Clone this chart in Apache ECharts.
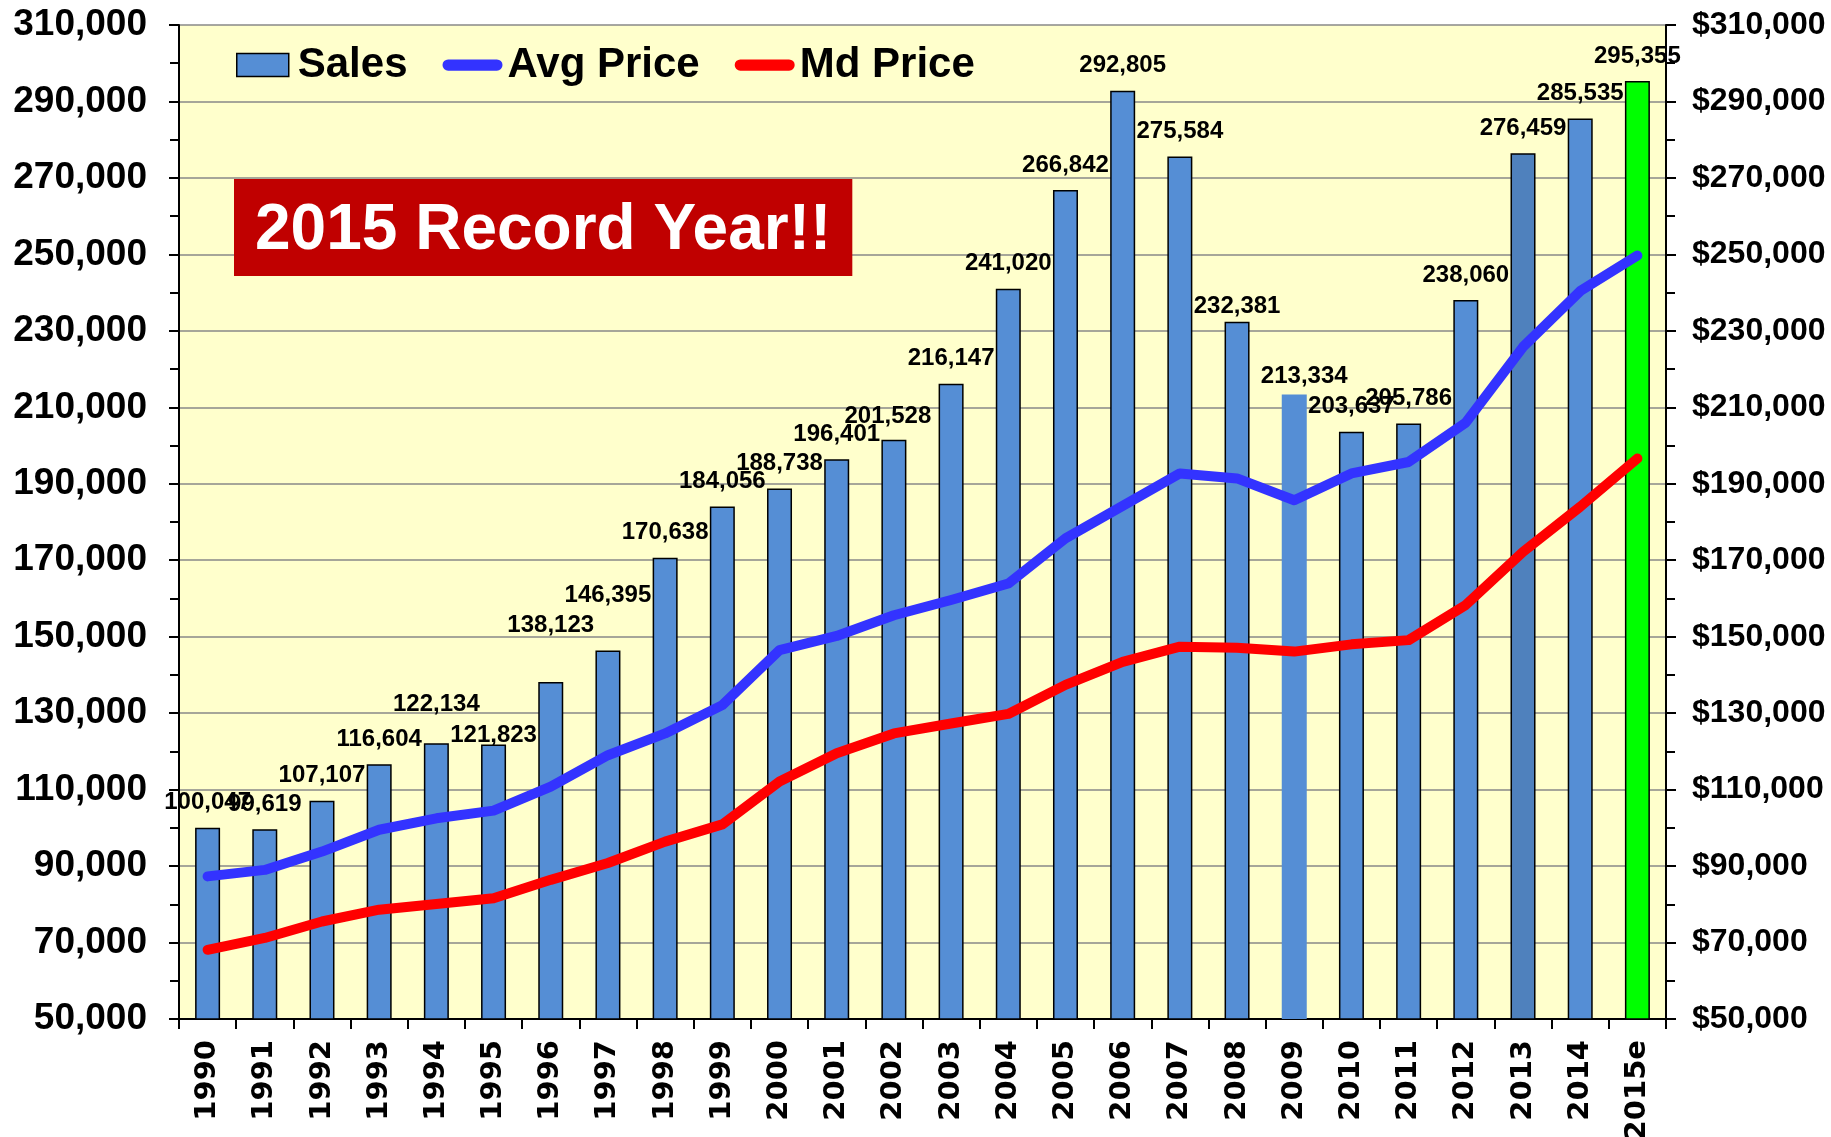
<!DOCTYPE html>
<html>
<head>
<meta charset="utf-8">
<title>Sales, Avg Price, Md Price 1990-2015</title>
<script src="https://cdn.jsdelivr.net/npm/echarts@6/dist/echarts.min.js"></script>
<style>
html, body { margin: 0; padding: 0; background: #fff; }
#report { width: 1831px; height: 1137px; }
</style>
</head>
<body>
<div id="report"></div>
<script>
var years = ['1990', '1991', '1992', '1993', '1994', '1995', '1996', '1997', '1998', '1999',
	'2000', '2001', '2002', '2003', '2004', '2005', '2006', '2007', '2008', '2009',
	'2010', '2011', '2012', '2013', '2014', '2015e'];
var sales = [100047, 99619, 107107, 116604, 122134, 121823, 138123, 146395, 170638, 184056,
	188738, 196401, 201528, 216147, 241020, 266842, 292805, 275584, 232381, 213334,
	203637, 205786, 238060, 276459, 285535, 295355];
var avgPrice = [87300, 89000, 93800, 99500, 102500, 104500, 110800, 119000, 124700, 132100,
	146500, 150200, 155600, 159600, 163900, 175700, 184200, 192700, 191400, 185700,
	192700, 195700, 206000, 225800, 240400, 249700];
var mdPrice = [68100, 71200, 75500, 78600, 80100, 81600, 86400, 90800, 96400, 100900,
	112100, 119500, 124700, 127300, 129800, 137400, 143400, 147400, 147100, 146100,
	148000, 149100, 158300, 172200, 184000, 196600];
var axisMin = 50000, axisMax = 310000, axisStep = 20000;

var font = 'Liberation Sans, Arial, sans-serif';
var fmt = function(v) { return Number(v).toLocaleString('en-US'); };

// labels that were nudged by hand in the original
var labelShift = { '1994': [0, -14], '1995': [0, 16], '1996': [0, -32], '1997': [0, -30],
	'2002': [-6, 2], '2008': [0, 10], '2009': [10, 7] };

var barData = sales.map(function(v, i) {
	var y = years[i];
	var item = { value: v };
	if (y === '2009') item.itemStyle = { borderWidth: 0 };
	if (y === '2013') item.itemStyle = { color: '#4F81BD' };
	if (y === '2015e') item.itemStyle = { color: '#00FF00' };
	if (labelShift[y]) item.label = { offset: labelShift[y] };
	return item;
});

var pill = 'path://M6,0 L58,0 A6,6 0 0 1 58,12 L6,12 A6,6 0 0 1 6,0 Z';
var box = 'path://M0,0 L52,0 L52,23 L0,23 Z';

var valueAxis = function(pos, prefix, margin, size, showSplit) {
	return {
		type: 'value', position: pos, min: axisMin, max: axisMax, interval: axisStep,
		axisLine: { show: true, lineStyle: { color: '#000', width: 2 } },
		axisTick: { show: true, length: 10, lineStyle: { color: '#000', width: 2 } },
		minorTick: { show: true, splitNumber: 2, length: 9, lineStyle: { color: '#000', width: 2 } },
		splitLine: { show: showSplit, lineStyle: { color: '#888', width: 1.5 } },
		axisLabel: {
			margin: margin, color: '#000', fontFamily: font, fontWeight: 'bold', fontSize: size,
			formatter: function(v) { return prefix + fmt(v); }
		}
	};
};

var myChart = echarts.init(document.getElementById('report'));
var option = {
	animation: false,
	backgroundColor: '#fff',
	title: {
		text: '2015 Record Year!!',
		left: 234, top: 179,
		backgroundColor: '#C00000',
		padding: [20, 21, 12, 21],
		textStyle: { color: '#fff', fontFamily: font, fontWeight: 'bold', fontSize: 64, lineHeight: 65 }
	},
	legend: {
		left: 236, top: 44, padding: 0,
		itemWidth: 60, itemHeight: 23, itemGap: 35,
		symbolKeepAspect: true,
		textStyle: { color: '#000', fontFamily: font, fontWeight: 'bold', fontSize: 42 },
		data: [
			{ name: 'Sales', icon: box, itemStyle: { color: '#558ED5', borderColor: '#000', borderWidth: 1.5 } },
			{ name: 'Avg Price', icon: pill, itemStyle: { color: '#3333FF' } },
			{ name: 'Md Price', icon: pill, itemStyle: { color: '#FF0000' } }
		]
	},
	grid: {
		left: 179, right: 165, top: 25, bottom: 118,
		show: true, backgroundColor: '#FFFFCC', borderWidth: 0,
		outerBoundsMode: 'none'
	},
	xAxis: {
		type: 'category', data: years,
		axisLine: { lineStyle: { color: '#000', width: 2 } },
		axisTick: { show: true, length: 10, lineStyle: { color: '#000', width: 2 } },
		axisLabel: {
			interval: 0, rotate: 90, margin: 21, color: '#000',
			fontFamily: 'DejaVu Sans, sans-serif', fontWeight: 'bold', fontSize: 29
		}
	},
	yAxis: [
		valueAxis('left', '', 32, 37, true),
		valueAxis('right', '$', 26, 32, false)
	],
	series: [
		{
			name: 'Sales', type: 'bar', barWidth: 25, data: barData,
			itemStyle: { color: '#558ED5', borderColor: '#000', borderWidth: 1.5 },
			label: {
				show: true, position: 'top', distance: 13, color: '#000',
				fontFamily: font, fontWeight: 'bold', fontSize: 24,
				formatter: function(p) { return fmt(p.value); }
			}
		},
		{
			name: 'Avg Price', type: 'line', yAxisIndex: 1, data: avgPrice,
			symbol: 'none', z: 3,
			itemStyle: { color: '#3333FF' },
			lineStyle: { color: '#3333FF', width: 10, cap: 'round', join: 'round' }
		},
		{
			name: 'Md Price', type: 'line', yAxisIndex: 1, data: mdPrice,
			symbol: 'none', z: 3,
			itemStyle: { color: '#FF0000' },
			lineStyle: { color: '#FF0000', width: 10, cap: 'round', join: 'round' }
		}
	]
};
myChart.setOption(option);
</script>
</body>
</html>
